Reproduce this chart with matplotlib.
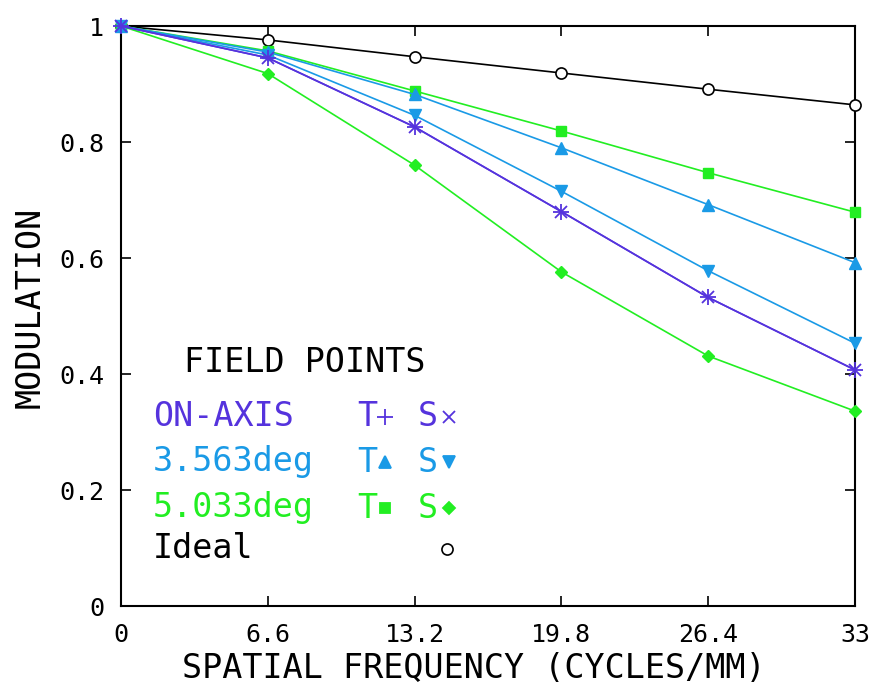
import matplotlib
matplotlib.use("Agg")
import matplotlib.pyplot as plt

# spatial frequency samples (cycles/mm)
freq = [0, 6.6, 13.2, 19.8, 26.4, 33]

# MTF values per field point
on_axis_t = [1.0, 0.945, 0.826, 0.680, 0.532, 0.407]
on_axis_s = [1.0, 0.945, 0.826, 0.680, 0.532, 0.407]
f3563_t = [1.0, 0.955, 0.882, 0.790, 0.692, 0.592]
f3563_s = [1.0, 0.950, 0.846, 0.715, 0.578, 0.453]
f5033_t = [1.0, 0.957, 0.888, 0.819, 0.747, 0.679]
f5033_s = [1.0, 0.918, 0.760, 0.576, 0.431, 0.336]
ideal = [1.0, 0.976, 0.947, 0.919, 0.891, 0.864]

xticks = [0, 6.6, 13.2, 19.8, 26.4, 33]
xtick_labels = ["0", "6.6", "13.2", "19.8", "26.4", "33"]
yticks = [0, 0.2, 0.4, 0.6, 0.8, 1.0]
ytick_labels = ["0", "0.2", "0.4", "0.6", "0.8", "1"]

PURPLE = "#5533dd"
BLUE = "#1a9ae6"
GREEN = "#22ee22"

plt.rcParams['font.family'] = ['DejaVu Sans Mono']

W, H = 873, 690
fig = plt.figure(figsize=(W / 100, H / 100), dpi=100)
ax = fig.add_axes([121 / W, 1 - 606 / H, 734 / W, 580 / H])

lw = 1.2
kw = dict(lw=lw, clip_on=False, zorder=3)
ax.plot(freq, ideal, color="black", marker="o", ms=8, mfc="white", mec="black", mew=1.2, **kw)
ax.plot(freq, f5033_t, color=GREEN, marker="s", ms=7, **kw)
ax.plot(freq, f5033_s, color=GREEN, marker="D", ms=6, **kw)
ax.plot(freq, f3563_t, color=BLUE, marker="^", ms=9, **kw)
ax.plot(freq, f3563_s, color=BLUE, marker="v", ms=9, **kw)
ax.plot(freq, on_axis_t, color=PURPLE, marker="+", ms=11, mew=1.3, **kw)
ax.plot(freq, on_axis_s, color=PURPLE, marker="x", ms=8, mew=1.3, **kw)

ax.set_xlim(0, 33)
ax.set_ylim(0, 1)
ax.set_xticks(xticks)
ax.set_xticklabels(xtick_labels)
ax.set_yticks(yticks)
ax.set_yticklabels(ytick_labels)
ax.tick_params(direction="in", length=7, width=1.2, top=True, right=True,
               labelsize=18, pad=12, colors="black")
for sp in ax.spines.values():
    sp.set_linewidth(1.5)

ax.set_xlabel("SPATIAL FREQUENCY (CYCLES/MM)", fontsize=24)
ax.set_ylabel("MODULATION", fontsize=24)
ax.xaxis.set_label_coords((474 - 121) / 734, -(668 - 606) / 580)
ax.yaxis.set_label_coords(-(121 - 30) / 734, (606 - 307) / 580)
ax.xaxis.label.set_va("center")
ax.yaxis.label.set_va("center")


def px(x, y):
    return fig.transFigure.inverted().transform((x, H - y))


def key_marker(x, y, **style):
    fx, fy = px(x, y)
    fig.lines.append(plt.Line2D([fx], [fy], transform=fig.transFigure, ls="none", **style))


# field point key drawn over the plot area
fs = 24
fig.text(*px(184, 362), "FIELD POINTS", fontsize=fs, color="black", va="center")

rows = [
    ("ON-AXIS", PURPLE, 417, ("+", 11), ("x", 8)),
    ("3.563deg", BLUE, 462, ("^", 9), ("v", 9)),
    ("5.033deg", GREEN, 508, ("s", 7), ("D", 6)),
]
for name, col, yy, tm, sm in rows:
    fig.text(*px(153, yy), name, fontsize=fs, color=col, va="center")
    fig.text(*px(357, yy), "T", fontsize=fs, color=col, va="center")
    fig.text(*px(418, yy), "S", fontsize=fs, color=col, va="center")
    key_marker(385, yy, marker=tm[0], ms=tm[1], color=col, mew=1.3)
    key_marker(449, yy, marker=sm[0], ms=sm[1], color=col, mew=1.3)

fig.text(*px(153, 549), "Ideal", fontsize=fs, color="black", va="center")
key_marker(447, 549, marker="o", ms=8, mfc="white", mec="black", mew=1.2)

fig.savefig("out.png", dpi=100)
